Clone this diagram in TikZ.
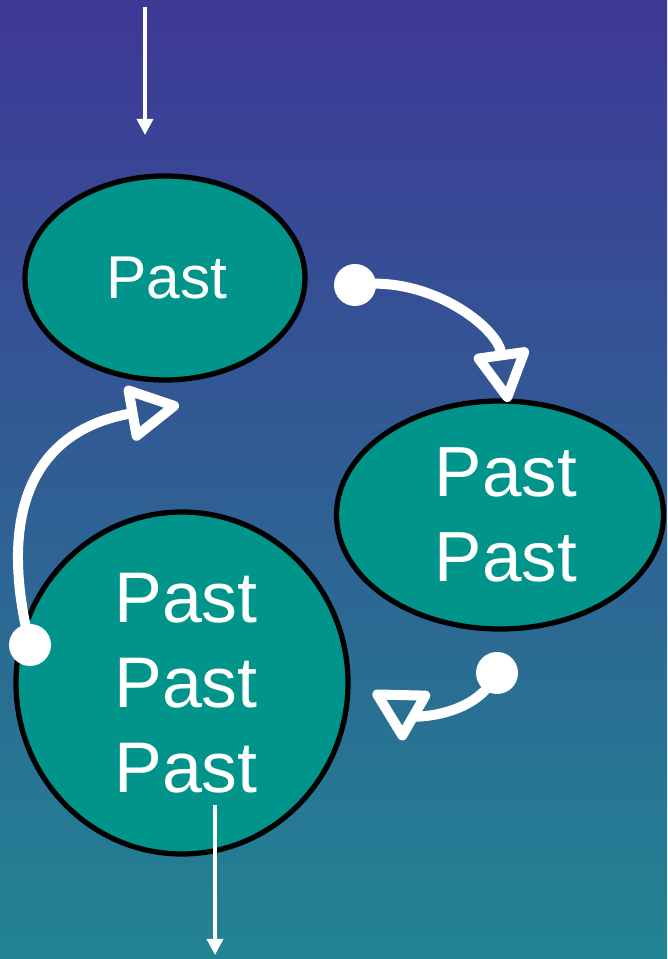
\documentclass[tikz,border=0pt]{standalone}
\usepackage{fontspec}
\setmainfont{Liberation Sans}
\usepackage{tikz}
\usetikzlibrary{shapes.geometric,arrows.meta}

\definecolor{fondoarriba}{RGB}{62,56,150}
\definecolor{fondoabajo}{RGB}{34,132,146}
\definecolor{verdeazul}{RGB}{0,148,138}

\tikzset{
    estado/.style={ellipse,draw=black,line width=1.5pt,fill=verdeazul,text=white,inner sep=0pt,align=center},
    flecha/.style={white,line width=0.035cm,-{Triangle[length=0.16cm,width=0.16cm]}},
    curva/.style={white,line width=0.1cm,line cap=round,-{Triangle[open,length=0.58cm,width=0.6cm,line join=round]}},
    punto/.style={fill=white}
}

\begin{document}
\begin{tikzpicture}
            % Fondo
            \useasboundingbox (0,0) rectangle (6.67,9.59);
            \shade[top color=fondoarriba,bottom color=fondoabajo] (0,0) rectangle (6.67,9.59);

            % Estados
            \node[estado,minimum width=2.80cm,minimum height=2.04cm,font=\fontsize{17.2}{20}\selectfont] (uno) at (1.65,6.81) {\hspace*{0.04cm}Past};
            \node[estado,minimum width=3.27cm,minimum height=2.28cm,font=\fontsize{20.2}{24.2}\selectfont] (dos) at (5.00,4.44) {\hspace*{0.12cm}Past\\\hspace*{0.12cm}Past};
            \node[estado,minimum width=3.32cm,minimum height=3.42cm,font=\fontsize{20.4}{24.2}\selectfont] (tres) at (1.82,2.76) {\hspace*{0.08cm}Past\\\hspace*{0.08cm}Past\\\hspace*{0.08cm}Past};

            % Puntos de las flechas
            \coordinate (entrada) at (1.45,9.52);
            \coordinate (entradafin) at (1.45,8.24);
            \coordinate (salida) at (2.15,1.54);
            \coordinate (salidafin) at (2.15,0.04);
            \coordinate (p1) at (3.55,6.74);
            \coordinate (f1) at (5.08,5.57);
            \coordinate (p2) at (0.30,3.14);
            \coordinate (f2) at (1.79,5.54);
            \coordinate (p3) at (4.97,2.86);
            \coordinate (f3) at (3.73,2.67);

            % Flechas rectas
            \draw[flecha] (entrada) -- (entradafin);
            \draw[flecha] (salida) -- (salidafin);

            % Flechas curvas
            \draw[curva] (p1) to[out=8,in=98] (f1);
            \draw[curva] (p2) to[out=104,in=190,looseness=1.3] (f2);
            \draw[curva] (p3) to[out=245,in=-30] (f3);
            \fill[punto] (p1) circle (0.21);
            \fill[punto] (p2) circle (0.21);
            \fill[punto] (p3) circle (0.21);
        \end{tikzpicture}
\end{document}
